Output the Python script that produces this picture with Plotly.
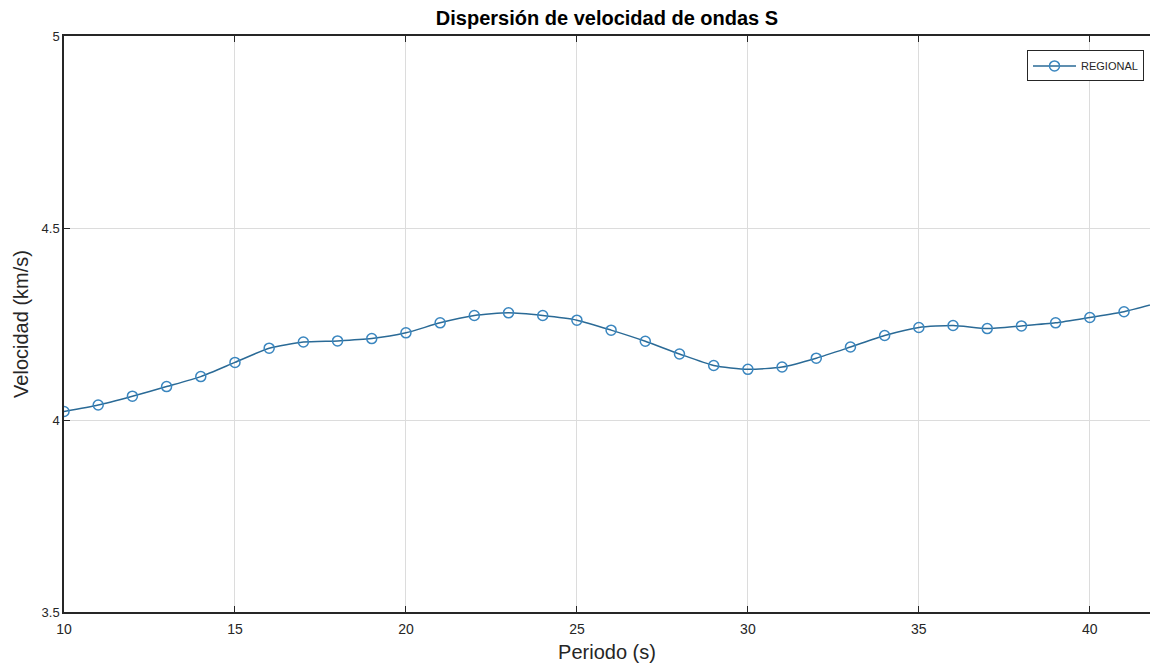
import plotly.graph_objects as go

periodo = [10, 11, 12, 13, 14, 15, 16, 17, 18, 19, 20, 21, 22, 23, 24, 25, 26,
           27, 28, 29, 30, 31, 32, 33, 34, 35, 36, 37, 38, 39, 40, 41, 42]
velocidad = [4.022, 4.039, 4.062, 4.087, 4.113, 4.150, 4.187, 4.203, 4.206, 4.212,
             4.227, 4.253, 4.272, 4.279, 4.272, 4.260, 4.234, 4.205, 4.172, 4.142,
             4.132, 4.138, 4.161, 4.190, 4.220, 4.241, 4.246, 4.238, 4.245, 4.253,
             4.267, 4.282, 4.305]
xticks = [10, 15, 20, 25, 30, 35, 40]
yticks = [3.5, 4, 4.5, 5]
ytick_labels = ["3.5", "4", "4.5", "5"]

FONT = "Liberation Sans, Arial, Helvetica, sans-serif"

fig = go.Figure()
fig.add_trace(go.Scatter(
    x=periodo, y=velocidad, mode="lines+markers", name="REGIONAL",
    line=dict(color="#2a6a96", width=1.5, shape="spline", smoothing=0.6),
    marker=dict(symbol="circle-open", size=10, color="#3a86bf",
                line=dict(width=1.5, color="#3a86bf")),
))

fig.update_layout(
    width=1150, height=667,
    paper_bgcolor="white", plot_bgcolor="white",
    margin=dict(l=64, r=0, t=36, b=55),
    font=dict(family=FONT, color="#262626", size=13),
    title=dict(text="<b>Dispersión de velocidad de ondas S</b>",
               x=0.5, xref="paper", xanchor="center",
               y=1 - 18 / 667, yanchor="middle",
               font=dict(size=20, color="#000000", family=FONT)),
    showlegend=True,
    legend=dict(x=(1144 - 64) / 1086, xanchor="right", y=0.975, yanchor="top",
                bgcolor="white", bordercolor="#262626", borderwidth=1,
                font=dict(size=11, family=FONT, color="#262626"),
                itemwidth=43, tracegroupgap=0),
)

fig.update_xaxes(
    range=[10, 41.76], tickvals=xticks, ticktext=[str(v) for v in xticks],
    showgrid=True, gridcolor="#dcdcdc", gridwidth=1,
    showline=True, linecolor="#262626", linewidth=1.5, mirror="ticks",
    ticks="inside", ticklen=6, tickcolor="#262626",
    zeroline=False, ticklabelstandoff=3,
    title=dict(text="Periodo (s)", font=dict(size=20, family=FONT, color="#262626"), standoff=9),
    tickfont=dict(size=14, family=FONT, color="#262626"),
)
fig.update_yaxes(
    range=[3.5, 5], tickvals=yticks, ticktext=ytick_labels,
    showgrid=True, gridcolor="#dcdcdc", gridwidth=1,
    showline=True, linecolor="#262626", linewidth=1.5, mirror=False,
    ticks="inside", ticklen=6, tickcolor="#262626",
    zeroline=False,
    title=dict(text="Velocidad (km/s)", font=dict(size=20, family=FONT, color="#262626"), standoff=8),
    tickfont=dict(size=13, family=FONT, color="#262626"),
)

fig.write_html(
    "out.html",
    config={"displayModeBar": False},
    post_script="document.body.style.margin='0';document.body.style.overflow='hidden';",
)
